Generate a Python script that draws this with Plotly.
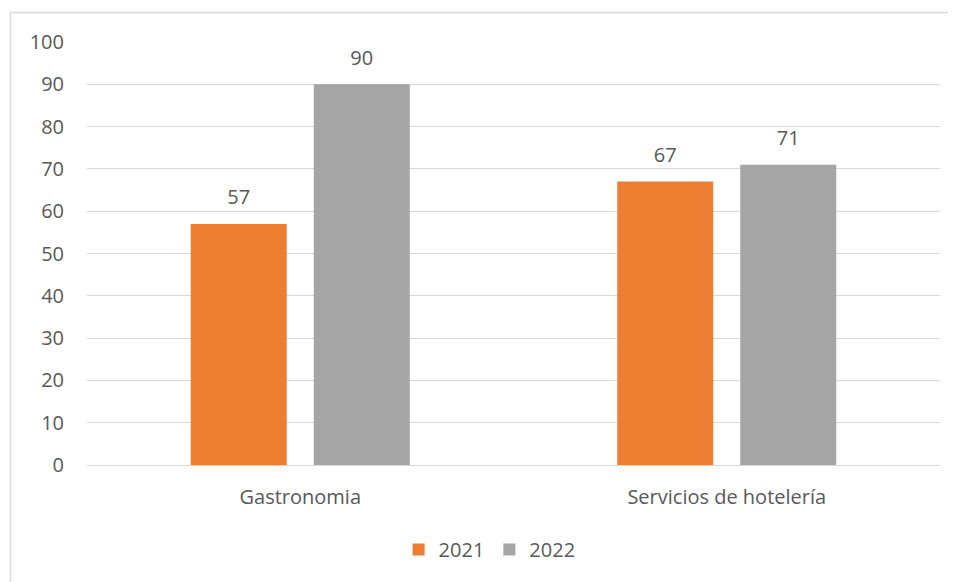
import plotly.graph_objects as go

categories = ["Gastronomia", "Servicios de hotelería"]
series_names = ["2021", "2022"]
values_2021 = [57, 67]
values_2022 = [90, 71]
y_ticks = [0, 10, 20, 30, 40, 50, 60, 70, 80, 90, 100]

colors = {"2021": "#ED7D31", "2022": "#A5A5A5"}
font_family = "'Open Sans', sans-serif"
txt = "#595959"

fig = go.Figure()
for name, vals in zip(series_names, [values_2021, values_2022]):
    fig.add_trace(go.Bar(
        x=categories, y=vals, name=name, offsetgroup=name,
        marker=dict(color=colors[name], line=dict(width=0)),
    ))
for name, vals in zip(series_names, [values_2021, values_2022]):
    fig.add_trace(go.Scatter(
        x=categories, y=vals, name=name, offsetgroup=name, showlegend=False,
        mode="markers+text", marker=dict(size=22, color="rgba(0,0,0,0)"),
        text=[str(v) for v in vals], textposition="top center",
        textfont=dict(size=20, color=txt, family=font_family),
        cliponaxis=False, hoverinfo="skip",
    ))

fig.update_layout(
    width=956, height=582,
    margin=dict(l=79, r=24, t=34, b=125),
    paper_bgcolor="white", plot_bgcolor="white",
    barmode="group", bargap=0.423, bargroupgap=0.22,
    scattermode="group", scattergap=0.423,
    font=dict(family=font_family, color=txt, size=20),
    showlegend=True,
    legend=dict(orientation="h", x=0.472, xanchor="center", y=-0.2, yanchor="middle",
                font=dict(size=20, color=txt), itemwidth=30, traceorder="normal"),
    xaxis=dict(showgrid=False, showline=False, ticks="outside", ticklen=14,
               tickcolor="rgba(0,0,0,0)", tickfont=dict(size=20, color=txt)),
    yaxis=dict(range=[0, 100], tickvals=y_ticks, showgrid=True, gridcolor="#D9D9D9",
               gridwidth=1, zeroline=True, zerolinecolor="#D9D9D9", zerolinewidth=1,
               showline=False, ticks="outside", ticklen=18, tickcolor="rgba(0,0,0,0)",
               tickfont=dict(size=20, color=txt)),
    shapes=[dict(type="rect", xref="paper", yref="paper",
                 x0=(2.5 - 79) / 853, x1=1.2, y0=-0.6, y1=(457 - 4.5) / 423,
                 line=dict(color="#D9D9D9", width=1.5), fillcolor="rgba(0,0,0,0)", layer="below")],
)

fig.write_html("out.html")
